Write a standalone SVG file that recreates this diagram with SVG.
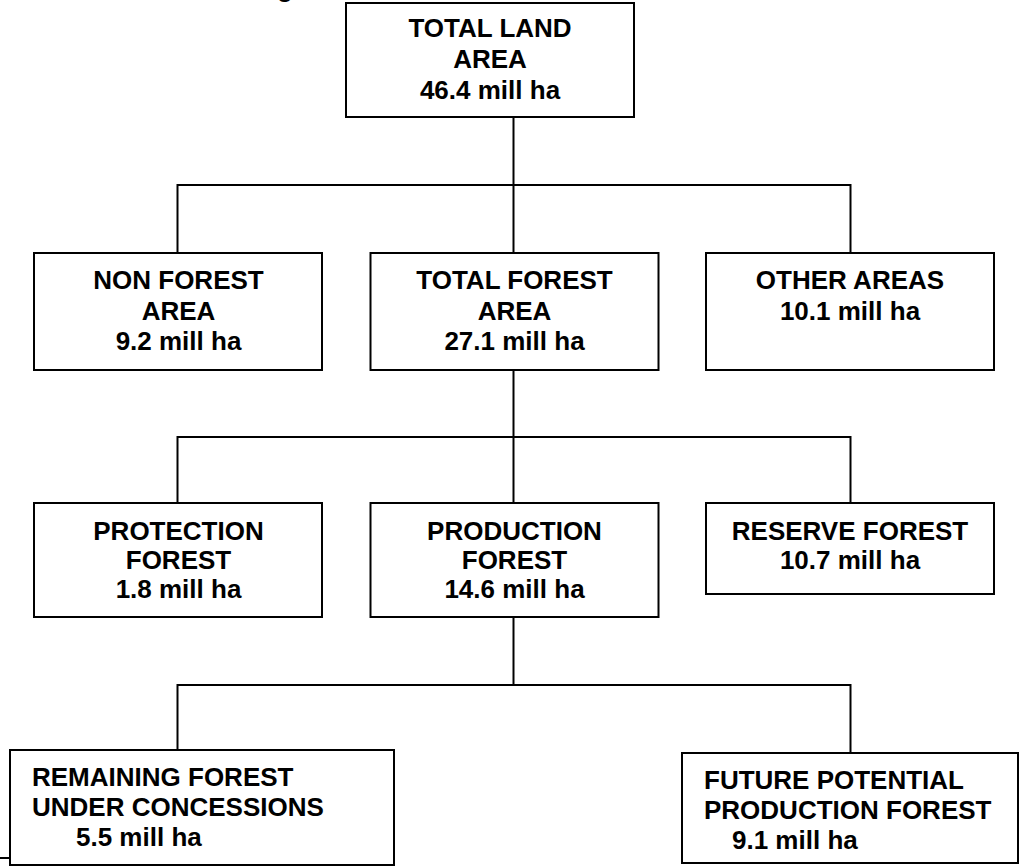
<svg xmlns="http://www.w3.org/2000/svg" width="1021" height="867" viewBox="0 0 1021 867">
<style>
.box{fill:#fff;stroke:#000;stroke-width:2}
.conn line{stroke:#000;stroke-width:2}
text{font-family:"Liberation Sans",Arial,sans-serif;font-weight:bold;font-size:26px;fill:#000}
.c{text-anchor:middle}
</style>
<rect width="1021" height="867" fill="#fff"/>
<text x="277" y="-3">g</text>
<g class="conn" id="connectors">
<line x1="513.5" y1="117" x2="513.5" y2="185"/>
<line x1="177.5" y1="185" x2="850.5" y2="185"/>
<line x1="177.5" y1="184" x2="177.5" y2="253"/>
<line x1="513.5" y1="184" x2="513.5" y2="253"/>
<line x1="850.5" y1="184" x2="850.5" y2="253"/>
<line x1="513.5" y1="370" x2="513.5" y2="437"/>
<line x1="177.5" y1="437" x2="850.5" y2="437"/>
<line x1="177.5" y1="436" x2="177.5" y2="503"/>
<line x1="513.5" y1="436" x2="513.5" y2="503"/>
<line x1="850.5" y1="436" x2="850.5" y2="503"/>
<line x1="513.5" y1="617" x2="513.5" y2="685"/>
<line x1="177.5" y1="685" x2="850.5" y2="685"/>
<line x1="177.5" y1="684" x2="177.5" y2="750"/>
<line x1="850.5" y1="684" x2="850.5" y2="753"/>
<line x1="0" y1="858" x2="10" y2="858"/>
</g>
<g id="total-land">
<rect class="box" x="346" y="3" width="288" height="114"/>
<text class="c" x="490" y="37">TOTAL LAND</text>
<text class="c" x="490" y="68">AREA</text>
<text class="c" x="490" y="99">46.4 mill ha</text>
</g>
<g id="non-forest">
<rect class="box" x="34" y="253" width="288" height="117"/>
<text class="c" x="178.5" y="289">NON FOREST</text>
<text class="c" x="178.5" y="320">AREA</text>
<text class="c" x="178.5" y="350">9.2 mill ha</text>
</g>
<g id="total-forest">
<rect class="box" x="370.5" y="253" width="288" height="117"/>
<text class="c" x="514.5" y="289">TOTAL FOREST</text>
<text class="c" x="514.5" y="320">AREA</text>
<text class="c" x="514.5" y="350">27.1 mill ha</text>
</g>
<g id="other-areas">
<rect class="box" x="706" y="253" width="288" height="117"/>
<text class="c" x="850" y="289">OTHER AREAS</text>
<text class="c" x="850" y="320">10.1 mill ha</text>
</g>
<g id="protection">
<rect class="box" x="34" y="503" width="288" height="114"/>
<text class="c" x="178.5" y="540">PROTECTION</text>
<text class="c" x="178.5" y="569">FOREST</text>
<text class="c" x="178.5" y="598">1.8 mill ha</text>
</g>
<g id="production">
<rect class="box" x="370.5" y="503" width="288" height="114"/>
<text class="c" x="514.5" y="540">PRODUCTION</text>
<text class="c" x="514.5" y="569">FOREST</text>
<text class="c" x="514.5" y="598">14.6 mill ha</text>
</g>
<g id="reserve">
<rect class="box" x="706" y="503" width="288" height="91"/>
<text class="c" x="850" y="540">RESERVE FOREST</text>
<text class="c" x="850" y="569">10.7 mill ha</text>
</g>
<g id="remaining">
<rect class="box" x="10" y="750" width="384" height="115"/>
<text x="32" y="786">REMAINING FOREST</text>
<text x="32" y="816">UNDER CONCESSIONS</text>
<text x="76" y="846">5.5 mill ha</text>
</g>
<g id="future">
<rect class="box" x="682" y="753" width="336" height="110"/>
<text x="704" y="789">FUTURE POTENTIAL</text>
<text x="704" y="819">PRODUCTION FOREST</text>
<text x="732" y="849">9.1 mill ha</text>
</g>
</svg>
